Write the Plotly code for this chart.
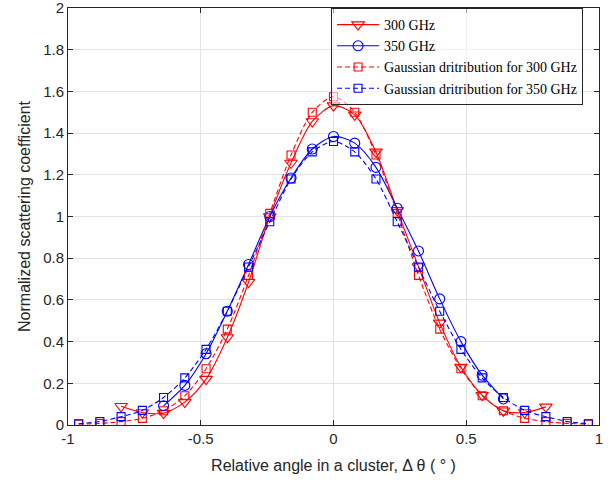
import plotly.graph_objects as go

# ---- data ----
angle_gauss = [-0.96, -0.88, -0.80, -0.72, -0.64, -0.56, -0.48, -0.40, -0.32, -0.24, -0.16, -0.08, 0.0,
               0.08, 0.16, 0.24, 0.32, 0.40, 0.48, 0.56, 0.64, 0.72, 0.80, 0.88, 0.96]
angle_300 = [-0.80, -0.72, -0.64, -0.56, -0.48, -0.40, -0.32, -0.24, -0.16, -0.08, 0.0,
             0.08, 0.16, 0.24, 0.32, 0.40, 0.48, 0.56, 0.64, 0.72, 0.80]
angle_350 = [-0.64, -0.56, -0.48, -0.40, -0.32, -0.24, -0.16, -0.08, 0.0,
             0.08, 0.16, 0.24, 0.32, 0.40, 0.48, 0.56, 0.64]

meas_300 = [0.09, 0.06, 0.057, 0.11, 0.22, 0.42, 0.685, 1.0, 1.257, 1.456, 1.532,
            1.488, 1.31, 1.03, 0.76, 0.49, 0.278, 0.143, 0.068, 0.06, 0.087]
meas_350 = [0.092, 0.19, 0.342, 0.546, 0.77, 1.0, 1.185, 1.324, 1.384,
            1.352, 1.236, 1.04, 0.835, 0.605, 0.40, 0.239, 0.125]
gauss_300 = [0.004, 0.008, 0.016, 0.032, 0.068, 0.14, 0.27, 0.46, 0.718, 1.015, 1.295, 1.50, 1.575,
             1.50, 1.295, 1.015, 0.718, 0.46, 0.27, 0.14, 0.068, 0.032, 0.016, 0.008, 0.004]
gauss_350 = [0.006, 0.017, 0.04, 0.07, 0.132, 0.226, 0.363, 0.546, 0.758, 0.975, 1.18, 1.31, 1.36,
             1.31, 1.18, 0.975, 0.758, 0.546, 0.363, 0.226, 0.132, 0.07, 0.04, 0.017, 0.006]

x_ticks = [-1, -0.5, 0, 0.5, 1]
x_tick_text = ["-1", "-0.5", "0", "0.5", "1"]
y_ticks = [0, 0.2, 0.4, 0.6, 0.8, 1.0, 1.2, 1.4, 1.6, 1.8, 2.0]
y_tick_text = ["0", "0.2", "0.4", "0.6", "0.8", "1", "1.2", "1.4", "1.6", "1.8", "2"]

RED = "#FF0000"
BLUE = "#0000FF"

fig = go.Figure()
fig.add_trace(go.Scatter(
    x=angle_300, y=meas_300, name="300 GHz", mode="lines+markers",
    line=dict(color=RED, width=1.1, shape="spline", smoothing=0.8),
    marker=dict(symbol="triangle-down-open", size=11, color=RED, line=dict(width=1.1))))
fig.add_trace(go.Scatter(
    x=angle_350, y=meas_350, name="350 GHz", mode="lines+markers",
    line=dict(color=BLUE, width=1.1, shape="spline", smoothing=0.8),
    marker=dict(symbol="circle-open", size=10, color=BLUE, line=dict(width=1.1))))
fig.add_trace(go.Scatter(
    x=angle_gauss, y=gauss_300, name="Gaussian dritribution for 300 GHz", mode="lines+markers",
    line=dict(color=RED, width=1.1, dash="5px,3px", shape="spline", smoothing=0.8),
    marker=dict(symbol="square-open", size=8, color=RED, line=dict(width=1.1))))
fig.add_trace(go.Scatter(
    x=angle_gauss, y=gauss_350, name="Gaussian dritribution for 350 GHz", mode="lines+markers",
    line=dict(color=BLUE, width=1.1, dash="5px,3px", shape="spline", smoothing=0.8),
    marker=dict(symbol="square-open", size=8, color=BLUE, line=dict(width=1.1))))

axis_common = dict(
    showline=True, linecolor="#262626", linewidth=1, mirror="ticks",
    ticks="inside", ticklen=5, tickcolor="#262626",
    showgrid=True, gridcolor="#E3E3E3", gridwidth=1, zeroline=False,
    automargin=False, ticklabeloverflow="allow",
    tickfont=dict(family="Liberation Sans, Arial, sans-serif", size=15, color="#262626"),
)

fig.update_layout(
    width=611, height=482,
    paper_bgcolor="white", plot_bgcolor="white",
    margin=dict(l=68, r=12, t=8, b=57),
    showlegend=True,
    legend=dict(
        x=0.97, y=1.0, xanchor="right", yanchor="top",
        bgcolor="rgba(255,255,255,0.55)", bordercolor="#262626", borderwidth=1,
        font=dict(family="Liberation Serif, Times New Roman, serif", size=14, color="#000000"),
        tracegroupgap=0, itemwidth=42,
    ),
    xaxis=dict(
        range=[-1, 1], tickvals=x_ticks, ticktext=x_tick_text,
        title=dict(text="Relative angle in a cluster, \u0394 \u03b8 ( \u00b0 )",
                   font=dict(family="Liberation Sans, Arial, sans-serif", size=16, color="#262626"),
                   standoff=13),
        **axis_common),
    yaxis=dict(
        range=[0, 2.0004], tickvals=y_ticks, ticktext=y_tick_text,
        title=dict(text="Normalized scattering coefficient",
                   font=dict(family="Liberation Sans, Arial, sans-serif", size=16, color="#262626"),
                   standoff=8),
        **axis_common),
)

fig.write_html("out.html", config={"displayModeBar": False},
               post_script="document.body.style.margin='0';")
